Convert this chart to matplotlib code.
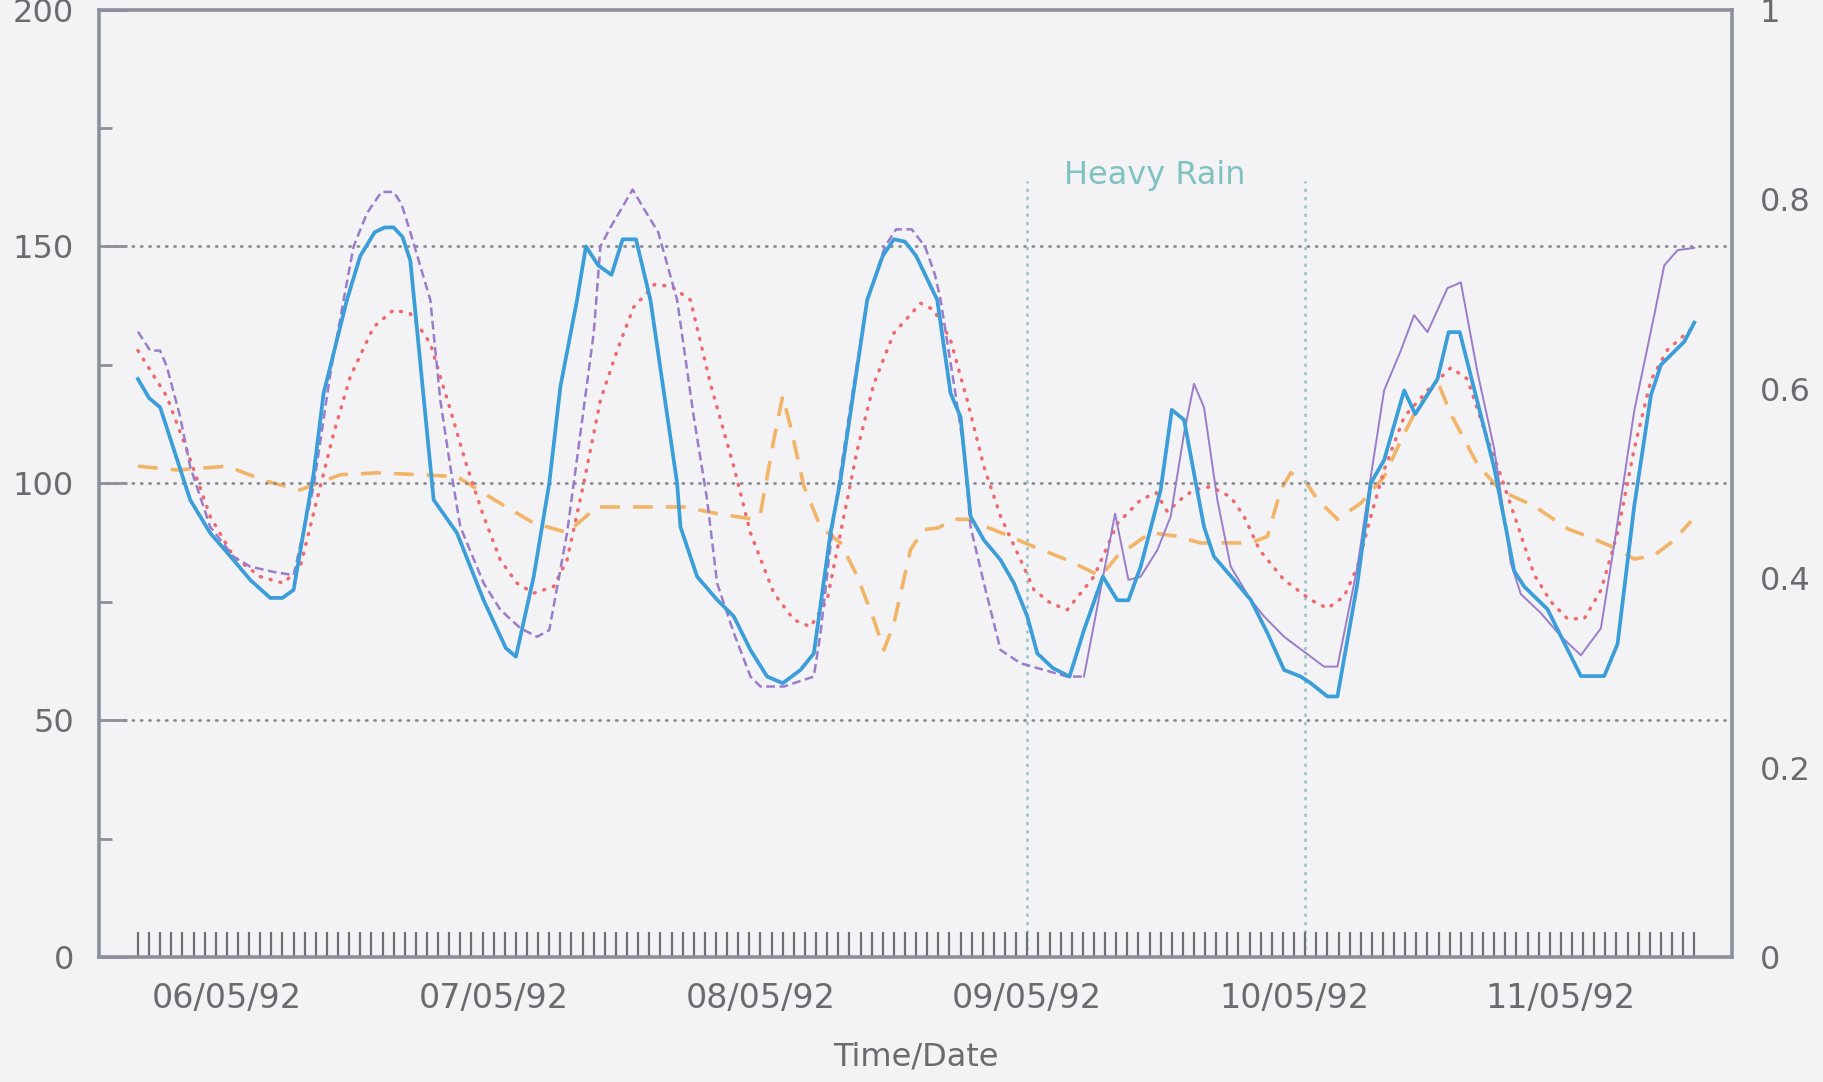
import numpy as np
import matplotlib
matplotlib.use("Agg")
import matplotlib.pyplot as plt
from matplotlib.ticker import FixedLocator, FuncFormatter

# ---- data (x = hour index of hourly samples) ----
blue_x = [0, 1, 2, 4.7, 6.5, 8.6, 10.1, 11.9, 13, 14, 15.8, 16.7, 18.8, 20, 21.3, 22.2, 23, 23.8, 24.5,
          26.6, 28.7, 31.1, 33.1, 34, 35.6, 37, 38, 39.5, 40.3, 41.4, 42.6, 43.6, 44.8, 46.1, 48.5, 48.8,
          50.3, 52.1, 53.6, 55.1, 56.6, 58, 59.6, 60.8, 62.3, 63.2, 65.6, 67, 68, 69, 70, 71.9, 73.1, 74,
          74.9, 76.1, 77.6, 78.8, 80, 80.9, 82.3, 83.8, 85.1, 86.8, 88.1, 89.1, 90.2, 92, 93, 94.1, 95.9,
          96.8, 98.6, 100.1, 101.6, 103.1, 104.6, 105.5, 107, 107.9, 109.7, 110.9, 112.1, 113.9, 114.9,
          116.9, 117.9, 118.9, 122, 123.8, 124.7, 126.8, 129.8, 131.9, 133.1, 134.6, 136.1, 137, 139.1, 140]
blue_y = [122, 118, 116, 96.5, 89.5, 83.8, 79.6, 75.8, 75.8, 77.5, 102, 119, 138.7, 148, 153, 154, 154, 152, 147,
          96.5, 89.5, 75.3, 65.2, 63.4, 80.3, 100, 120.4, 138.7, 150, 146, 144, 151.5, 151.5, 138.7, 100, 90.8,
          80.3, 75.4, 71.9, 64.8, 59.2, 57.8, 60.6, 64.1, 89.5, 100.7, 138.7, 148, 151.5, 151, 148, 138.7, 119, 114,
          93, 88, 83.8, 78.9, 71.9, 64.1, 61, 59.2, 69, 80.3, 75.3, 75.3, 82.4, 98.6, 115.5, 113.4, 90.8,
          84.5, 79.6, 75.4, 68.4, 60.6, 59.2, 57.8, 55, 55, 78.9, 100, 104.9, 119.6, 114.6,
          122, 131.9, 131.9, 103.3, 81.5, 78.2, 73.4, 59.3, 59.3, 66.1, 95.2, 118.6, 125, 129.9, 133.9]

purple_x = [0, 1.1, 2, 2.6, 3.8, 4.7, 6.5, 8.6, 10.1, 12.2, 14, 15.8, 17.3, 18.5, 19.4, 20.6, 21.9, 23, 23.7,
            24.5, 26.3, 27.2, 28.1, 29, 31.1, 32.6, 34.4, 35.9, 37, 38.6, 39.8, 41, 41.6, 42.5, 44.5, 45.5,
            46.8, 48.5, 50, 51.2, 52.1, 53.6, 55.1, 56, 58.1, 60.8, 61.4, 62.6, 64.4, 65.6, 67.2, 68.2, 69.6,
            70.8, 71.7, 72.2, 73.4, 74.3, 74.9, 76.1, 77.6, 79.4, 81.5, 83.6, 85.1, 87.9, 89.1, 90.2, 91.7,
            92.9, 94.1, 95, 95.9, 97.1, 98.3, 100.1, 101.3, 103.1, 105.5, 106.7, 107.9, 109.7, 110.9, 112.1,
            113.6, 114.8, 116, 117.8, 119, 120.5, 122, 123.5, 124.4, 126.2, 128, 129.8, 131.6, 132.8, 134.6,
            136.4, 137.3, 138.5, 140]
purple_y = [132, 128, 128, 124.6, 114, 103.5, 90.8, 84.5, 82.4, 81.3, 80.6, 99.3, 123, 138.7, 150, 157, 161.5, 161.5, 159,
            153, 138.7, 117.5, 103.5, 90.8, 78.9, 73.3, 69.4, 67.6, 69, 89.5, 110.5, 131.7, 150, 154, 162, 158,
            153, 138.7, 114, 96.5, 78.9, 68.4, 59.2, 57.1, 57.1, 59.2, 68.4, 93, 121, 138.7, 150, 153.6, 153.6,
            150, 144, 138.7, 121, 107, 90.8, 78.9, 64.8, 62, 60.6, 59.2, 59.2, 93.6, 79.6, 80.3, 85.9,
            93, 110.5, 121, 116, 96.5, 82.4, 75.4, 71.9, 67.6, 63.4, 61.3, 61.3, 82.4, 101.4, 119.6,
            128, 135.5, 131.9, 141.2, 142.4, 123.4, 107.3, 83.1, 76.6, 72.6, 67.7, 63.7, 69.4, 87.1, 115.3,
            135.5, 146, 149.2, 149.7]

red_x = [0, 2.6, 4.4, 6.5, 8.6, 11, 13.1, 14.6, 16.1, 17.6, 19.1, 21.2, 23, 24.5, 26.3, 28.1, 29.6, 31.1, 32.6,
         34.1, 35.6, 37.4, 38.6, 40.1, 41.6, 43.1, 44.6, 46.5, 48, 49.7, 51.5, 53.6, 55.1, 57.2, 59, 60.5, 62,
         63.2, 64.7, 66.2, 68, 70.4, 71.6, 73.1, 74.6, 76.1, 77.6, 79.4, 80.6, 82.1, 83.6, 86, 88.1, 90.2, 91.6,
         92.6, 94, 95, 96.5, 98.3, 99.5, 100.9, 103.1, 105.5, 107, 108.5, 109.7, 110.9, 112.1, 113.9, 116,
         118.1, 119.6, 121.1, 122.6, 124.1, 125.6, 127.1, 128.6, 130.1, 131.6, 133.1, 134.6, 136.1, 137.6, 140]
red_y = [128, 118.3, 107, 93, 84.5, 80.3, 78.9, 82.4, 96.5, 110.5, 122.5, 133, 136.6, 135.8, 129.5, 115.5, 103.5, 93, 83.8,
         78.9, 76.8, 78.2, 83.8, 100, 117.5, 128, 137.2, 142, 141.5, 138.7, 121, 103.5, 89.5, 76.8, 71.2, 69.7, 75.4,
         89.5, 107, 121, 131.7, 138, 136.6, 130.2, 117.5, 103.5, 93, 83.8, 77.5, 74.7, 73.3, 80.3, 91.5, 96.5, 98,
         94, 97, 98.6, 99.3, 97.1, 93, 85.9, 79.6, 75.4, 73.6, 76.1, 82.4, 93, 102.8, 114, 119.6,
         124.4, 122, 111.3, 101.6, 91.2, 80.7, 75, 71.4, 71.4, 77.4, 89.5, 107.3, 121.8, 128.2, 133.1]

# orange series on the right-hand (0-1) scale
orange_x = [0, 3.5, 8, 11.6, 14.6, 18.2, 21.5, 25.4, 28.7, 32, 35.6, 38.6, 41.3, 44.6, 49.1, 52.1, 55.4, 56,
            57.2, 58, 58.7, 59.9, 61.4, 63.2, 64.7, 66.2, 67.1, 68, 69.5, 70.7, 72, 73.4, 74.6, 77.6, 80.6,
            83.6, 86.6, 88.1, 91.1, 93.5, 95.6, 100.1, 101.6, 102.8, 103.7, 104.9, 106.1, 107.9, 110, 112.1,
            113.6, 115.1, 116.9, 118.1, 120.5, 122.6, 125.6, 128.6, 130.4, 132.8, 134.6, 136.4, 138.2, 139.7]
orange_y = [0.518, 0.514, 0.518, 0.502, 0.493, 0.509, 0.511, 0.509, 0.507, 0.483, 0.458, 0.448, 0.475, 0.475,
            0.475, 0.468, 0.462, 0.468, 0.546, 0.592, 0.560, 0.497, 0.454, 0.437, 0.402, 0.356, 0.324, 0.352,
            0.430, 0.451, 0.453, 0.462, 0.462, 0.448, 0.433, 0.419, 0.402, 0.423, 0.448, 0.444, 0.437, 0.437,
            0.444, 0.493, 0.511, 0.504, 0.483, 0.462, 0.479, 0.507, 0.545, 0.580, 0.608, 0.573, 0.520, 0.492,
            0.476, 0.452, 0.444, 0.432, 0.420, 0.424, 0.440, 0.460]

date_labels = ["06/05/92", "07/05/92", "08/05/92", "09/05/92", "10/05/92", "11/05/92"]
date_pos = [8, 32, 56, 80, 104, 128]
hour_ticks = list(range(0, 141))
rain_start, rain_end = 80, 105
rain_label = "Heavy Rain"
left_ticks = [0, 50, 100, 150, 200]
left_minor = [25, 75, 125, 175]
right_ticks = [0, 0.2, 0.4, 0.6, 0.8, 1.0]
right_labels = ["0", "0.2", "0.4", "0.6", "0.8", "1"]
xlabel = "Time/Date"

# ---- styling ----
BG = "#f3f3f6"
SPINE = "#8d8f9b"
TXT = "#6a6a70"
plt.rcParams["font.family"] = ["DejaVu Sans"]

fig = plt.figure(figsize=(18.24, 10.82), dpi=100, facecolor=BG)
ax = fig.add_axes([0.0543, 0.1155, 0.8953, 0.8757])
ax.set_xlim(-3.5, 143.4)
ax.set_ylim(0, 200)

ax2 = ax.twinx()
ax2.set_ylim(0, 1)
# orange drawn on the twin axis, placed behind the main axis
ax2.set_zorder(0)
ax.set_zorder(1)
ax.patch.set_visible(False)
ax2.patch.set_visible(True)
ax2.patch.set_facecolor(BG)

for s in ax.spines.values():
    s.set_color(SPINE)
    s.set_linewidth(2.6)
for s in ax2.spines.values():
    s.set_visible(False)

# gridlines
for g in [50, 100, 150]:
    ax.axhline(g, color="#8a8a92", lw=2.0, linestyle=(0, (0.4, 2.6)),
               dash_capstyle="round", zorder=1)

# heavy rain markers
for xv in [rain_start, rain_end]:
    ax.plot([xv, xv], [0, 163.5], color="#9cc4cc", lw=2.0,
            linestyle=(0, (0.4, 2.6)), dash_capstyle="round", zorder=1)
ax.text((rain_start + rain_end) / 2 - 1, 165, rain_label, color="#7fc2c0",
        fontsize=23, ha="center", va="center")

ax2.plot(orange_x, orange_y, color="#f2b466", lw=2.6,
         linestyle=(0, (5.5, 3.6)), zorder=2)

# main series
ax.plot(red_x, red_y, color="#ef6a6e", lw=2.5, linestyle=(0, (0.3, 2.6)),
        dash_capstyle="round", zorder=3)
px = np.array(purple_x)
py = np.array(purple_y)
m1 = px <= 85.1
m2 = px >= 85.1
ax.plot(px[m1], py[m1], color="#9a7cc8", lw=1.8, linestyle=(0, (3.5, 1.8)), zorder=4)
ax.plot(px[m2], py[m2], color="#9a7cc8", lw=1.4, zorder=4)
ax.plot(blue_x, blue_y, color="#3b9ed8", lw=2.7, zorder=5)

# x ticks
ax.xaxis.set_major_locator(FixedLocator(hour_ticks))
lab_map = dict(zip(date_pos, date_labels))
ax.xaxis.set_major_formatter(FuncFormatter(lambda v, p: lab_map.get(int(round(v)), "")))
ax.tick_params(axis="x", which="major", direction="in", length=18, width=1.6,
               color="#6e6e78", labelsize=24, labelcolor=TXT, pad=18)
ax.set_xlabel(xlabel, fontsize=23, color=TXT, labelpad=19)

# left y ticks
ax.yaxis.set_major_locator(FixedLocator(left_ticks))
ax.yaxis.set_minor_locator(FixedLocator(left_minor))
ax.yaxis.set_major_formatter(FuncFormatter(lambda v, p: f"{int(v)}"))
ax.tick_params(axis="y", which="major", direction="in", length=20, width=2,
               color=SPINE, labelsize=23, labelcolor=TXT, pad=18)
ax.tick_params(axis="y", which="minor", direction="in", length=9, width=2, color=SPINE)

# right y ticks
ax2.yaxis.set_major_locator(FixedLocator(right_ticks))
ax2.set_yticklabels(right_labels)
ax2.tick_params(axis="y", length=0, labelsize=23, labelcolor=TXT, pad=20)

fig.savefig("out.png", dpi=100, facecolor=BG)
